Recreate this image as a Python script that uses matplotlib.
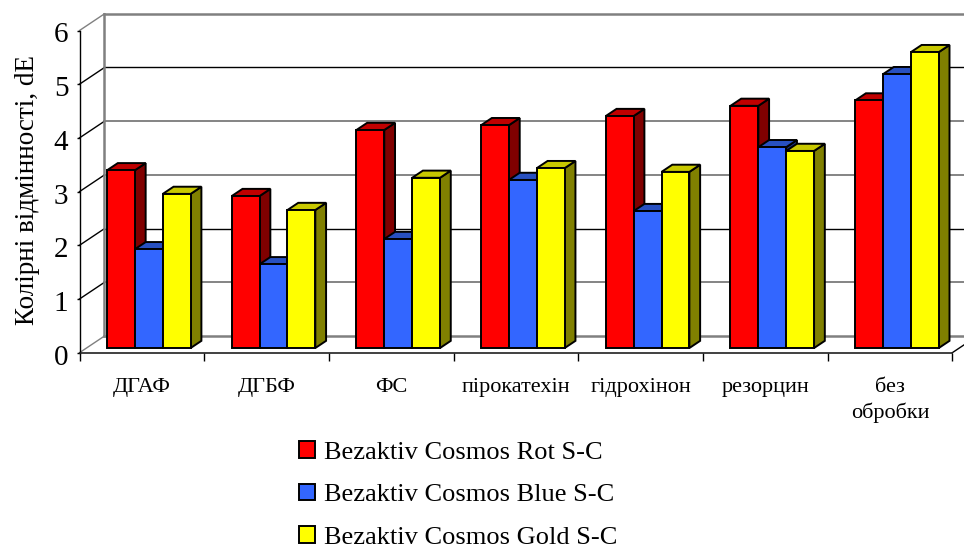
import matplotlib
matplotlib.use('Agg')
import matplotlib.pyplot as plt
from matplotlib.patches import Patch, Polygon
from matplotlib.transforms import ScaledTranslation

plt.rcParams['font.family'] = ['Liberation Serif', 'DejaVu Serif']

categories = ['ДГАФ', 'ДГБФ', 'ФС', 'пірокатехін', 'гідрохінон', 'резорцин', 'без\nобробки']
series_names = ['Bezaktiv Cosmos Rot S-C', 'Bezaktiv Cosmos Blue S-C', 'Bezaktiv Cosmos Gold S-C']
rot = [3.31, 2.83, 4.06, 4.15, 4.32, 4.51, 4.61]
blue = [1.84, 1.56, 2.03, 3.13, 2.55, 3.74, 5.10]
gold = [2.87, 2.57, 3.17, 3.35, 3.28, 3.67, 5.51]
y_ticks = [0, 1, 2, 3, 4, 5, 6]

front_colors = ['#ff0000', '#3366ff', '#ffff00']
top_colors = ['#c00000', '#2850c0', '#c8c800']
side_colors = ['#800000', '#1a3380', '#808000']

# depth of the fake 3d box, in data units
DX = 0.2005
DY = 0.311
BAR_START = 0.28
BAR_DEPTH = 0.43
BAR_W = 0.2235

fig = plt.figure(figsize=(9.64, 5.45), dpi=100)
ax = fig.add_axes([79.5 / 964, (545 - 352.7) / 545, 872.8 / 964, 322.2 / 545])
ax.set_xlim(0, len(categories))
ax.set_ylim(0, 6)

# back wall and floor
for level in y_ticks:
    if level in (0, 6):
        col, lw = '#808080', 1.8
    elif level in (2, 5):
        col, lw = 'black', 1.0
    else:
        col, lw = '#707070', 1.2
    ax.plot([DX, len(categories) + DX], [level + DY, level + DY], color=col, lw=lw, clip_on=False, zorder=1)
    ax.plot([0, DX], [level, level + DY], color='#808080' if level in (0, 6) else 'black', lw=1.0,
            clip_on=False, zorder=1)
ax.plot([DX, DX], [DY, 6 + DY], color='#808080', lw=1.8, clip_on=False, zorder=1)
ax.plot([len(categories), len(categories) + DX], [0, DY], color='black', lw=1.0, clip_on=False, zorder=1)


def draw_series(values, idx):
    # red, blue, gold sit side by side in each category
    base_x = BAR_START * DX
    base_y = BAR_START * DY
    dx = BAR_DEPTH * DX
    dy = BAR_DEPTH * DY
    z = 3 + idx
    for c, v in enumerate(values):
        left = c + 0.5 + base_x + (idx - 1.5) * BAR_W
        right = left + BAR_W
        top = base_y + v
        ax.bar(left, v, BAR_W, bottom=base_y, align='edge', color=front_colors[idx],
               edgecolor='black', linewidth=1.4, zorder=z + 0.2, clip_on=False)
        side = [(right, base_y), (right + dx, base_y + dy), (right + dx, top + dy), (right, top)]
        roof = [(left, top), (left + dx, top + dy), (right + dx, top + dy), (right, top)]
        ax.add_patch(Polygon(side, closed=True, facecolor=side_colors[idx], edgecolor='black',
                             linewidth=1.4, zorder=z, clip_on=False))
        ax.add_patch(Polygon(roof, closed=True, facecolor=top_colors[idx], edgecolor='black',
                             linewidth=1.4, zorder=z, clip_on=False))


for i, vals in enumerate([rot, blue, gold]):
    draw_series(vals, i)

ax.spines['top'].set_visible(False)
ax.spines['right'].set_visible(False)
ax.spines['left'].set_linewidth(1.0)
ax.spines['bottom'].set_linewidth(1.2)
ax.spines['bottom'].set_color('#202020')
ax.patch.set_alpha(0)

ax.set_yticks(y_ticks)
ax.tick_params(axis='y', length=2, width=1, labelsize=21, pad=6)
# the numbers sit a bit below their ticks
for lab in ax.get_yticklabels():
    lab.set_transform(lab.get_transform() + ScaledTranslation(0, -2 / 100, fig.dpi_scale_trans))
ax.set_xticks(range(len(categories) + 1))
ax.set_xticklabels([])
ax.tick_params(axis='x', which='major', length=6, width=1)
ax.set_xticks([c + 0.5 for c in range(len(categories))], minor=True)
ax.set_xticklabels(categories, minor=True, fontsize=16, linespacing=1.35)
ax.tick_params(axis='x', which='minor', length=0, pad=18)

ax.set_ylabel('Колірні відмінності, dE', fontsize=19.5)
ax.yaxis.set_label_coords(-0.0447, 0.505)

handles = [Patch(facecolor=c, edgecolor='black', linewidth=1.4) for c in front_colors]
fig.legend(handles, series_names, loc='upper left', bbox_to_anchor=(299 / 964, 1 - 441 / 545),
           frameon=False, fontsize=19, handlelength=0.6, handleheight=0.6, handletextpad=0.36,
           labelspacing=0.76, borderpad=0, borderaxespad=0)

fig.savefig('out.png', dpi=100)
